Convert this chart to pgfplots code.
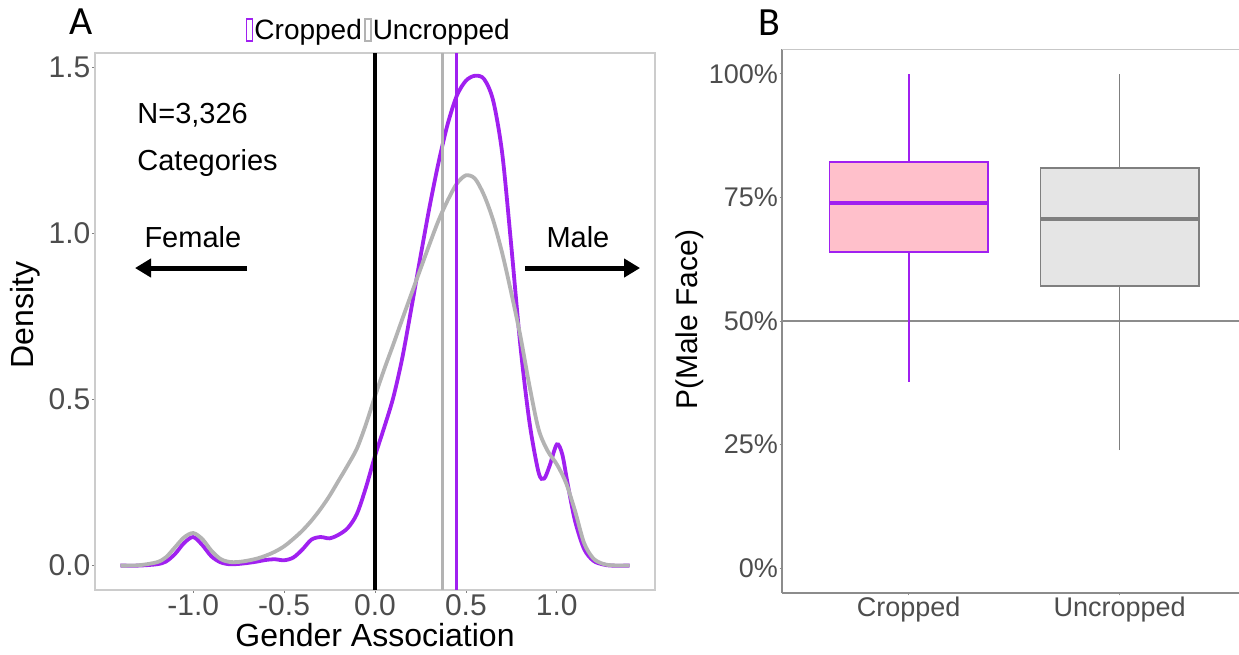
\documentclass[border=0pt]{standalone}
\usepackage{pgfplots}
\pgfplotsset{compat=1.18}
\usetikzlibrary{arrows.meta}
\usepackage{fontspec}
\setmainfont{Liberation Sans}
\newfontfamily\panelfont{Carlito}

\definecolor{cpurple}{HTML}{A020F0}
\definecolor{cgrey}{HTML}{B3B3B3}
\definecolor{cpink}{HTML}{FFC0CB}
\definecolor{boxfill}{HTML}{E5E5E5}
\definecolor{medgrey}{HTML}{7F7F7F}
\definecolor{ticktext}{HTML}{4D4D4D}
\definecolor{framegrey}{HTML}{CCCCCC}
\definecolor{axisgrey}{HTML}{8C8C8C}

\newcommand\fs[1]{\fontsize{#1bp}{#1bp}\selectfont}

% kernel density of gender association, cropped images
\pgfplotstableread{
x y
-1.40 0.000
-1.30 0.000
-1.20 0.004
-1.15 0.012
-1.10 0.035
-1.05 0.068
-1.00 0.086
-0.95 0.062
-0.90 0.028
-0.85 0.010
-0.80 0.004
-0.75 0.005
-0.70 0.008
-0.65 0.012
-0.60 0.017
-0.55 0.019
-0.50 0.016
-0.45 0.024
-0.40 0.048
-0.35 0.078
-0.30 0.086
-0.25 0.082
-0.20 0.093
-0.15 0.113
-0.10 0.155
-0.05 0.235
0.00 0.330
0.05 0.415
0.10 0.505
0.15 0.625
0.20 0.775
0.25 0.930
0.30 1.080
0.35 1.215
0.40 1.330
0.45 1.415
0.50 1.460
0.55 1.475
0.60 1.465
0.65 1.400
0.70 1.240
0.75 0.960
0.80 0.660
0.85 0.430
0.90 0.280
0.93 0.262
0.96 0.300
1.00 0.365
1.03 0.335
1.06 0.245
1.10 0.135
1.15 0.050
1.20 0.015
1.25 0.004
1.30 0.000
1.40 0.000
}\croppeddens

% kernel density of gender association, uncropped images
\pgfplotstableread{
x y
-1.40 0.000
-1.30 0.001
-1.20 0.010
-1.15 0.025
-1.10 0.055
-1.05 0.085
-1.00 0.098
-0.95 0.080
-0.90 0.045
-0.85 0.020
-0.80 0.011
-0.75 0.011
-0.70 0.015
-0.65 0.021
-0.60 0.030
-0.55 0.042
-0.50 0.058
-0.45 0.080
-0.40 0.105
-0.35 0.135
-0.30 0.170
-0.25 0.210
-0.20 0.256
-0.15 0.302
-0.10 0.352
-0.05 0.425
0.00 0.510
0.05 0.590
0.10 0.665
0.15 0.742
0.20 0.818
0.25 0.893
0.30 0.968
0.35 1.040
0.40 1.100
0.45 1.150
0.50 1.175
0.55 1.165
0.60 1.115
0.65 1.040
0.70 0.940
0.75 0.820
0.80 0.690
0.85 0.540
0.90 0.410
0.95 0.345
1.00 0.305
1.05 0.250
1.10 0.165
1.15 0.068
1.20 0.022
1.25 0.006
1.30 0.001
1.40 0.000
}\uncroppeddens

\begin{document}
\begin{tikzpicture}
\useasboundingbox (0,0) rectangle (1239bp,655bp);

\node at (81bp,633bp) {\panelfont\fs{40}A};
\node at (769bp,632bp) {\panelfont\fs{40}B};

% ---- panel A: densities ----
\begin{axis}[
  at={(95bp,65bp)}, anchor=south west,
  scale only axis, width=560bp, height=537bp,
  xmin=-1.54, xmax=1.54, ymin=-0.0735, ymax=1.5435,
  xtick={-1,-0.5,0,0.5,1}, xticklabels={-1.0,-0.5,0.0,0.5,1.0},
  ytick={0,0.5,1,1.5}, yticklabels={0.0,0.5,1.0,1.5},
  xtick pos=bottom, ytick pos=left,
  tick label style={font=\fs{30}, text=ticktext, inner sep=1.5bp},
  tick align=outside, major tick length=3bp,
  tick style={draw=gray, line width=0.8bp},
  axis line style={draw=framegrey, line width=1.2bp},
  xlabel={Gender Association}, ylabel={Density},
  label style={font=\fs{32}},
  xlabel style={at={(axis description cs:0.5,-0.0838)}, anchor=center},
  ylabel style={at={(axis description cs:-0.125,0.512)}, anchor=center},
  legend columns=2,
  legend style={draw=none, fill=none, at={(axis description cs:0.506,1)},
    anchor=center, yshift=23bp, font=\fs{28}, inner sep=0pt,
    nodes={inner sep=1.2bp},
    /tikz/every even column/.append style={column sep=1bp}},
  legend image code/.code={\draw[#1, line width=1.5bp, fill=white] (0bp,-11bp) rectangle (6bp,11bp);},
]
\addplot[cpurple, line width=3.8bp, smooth] table {\croppeddens};
\addlegendentry{Cropped}
\addplot[cgrey, line width=3.8bp, smooth] table {\uncroppeddens};
\addlegendentry{Uncropped}

% reference lines: zero and the two means
\addplot[forget plot, black, line width=3.5bp] coordinates {(0,-0.0735) (0,1.5435)};
\addplot[forget plot, cgrey, line width=3.5bp] coordinates {(0.37,-0.0735) (0.37,1.5435)};
\addplot[forget plot, cpurple, line width=3.2bp] coordinates {(0.45,-0.0735) (0.45,1.5435)};

\node[anchor=base west, font=\fs{29}] at (axis cs:-1.326,1.332) {N=3,326};
\node[anchor=base west, font=\fs{29}] at (axis cs:-1.326,1.190) {Categories};
\node[anchor=base west, font=\fs{29}] at (axis cs:-1.287,0.958) {Female};
\node[anchor=base west, font=\fs{29}] at (axis cs:0.924,0.958) {Male};
\draw[line width=5bp, -{Triangle[length=16bp,width=18bp]}] (axis cs:-0.704,0.896) -- (axis cs:-1.32,0.896);
\draw[line width=5bp, -{Triangle[length=16bp,width=18bp]}] (axis cs:0.825,0.896) -- (axis cs:1.458,0.896);
\end{axis}

% ---- panel B: box plots of P(male face) ----
\begin{axis}[
  at={(782bp,62bp)}, anchor=south west,
  scale only axis, width=457bp, height=544bp,
  xmin=0.4, xmax=2.566, ymin=-5, ymax=105,
  clip=false,
  axis x line*=bottom, axis y line*=left,
  xtick={1,2}, xticklabels={Cropped,Uncropped},
  ytick={0,25,50,75,100}, yticklabels={0\%,25\%,50\%,75\%,100\%},
  tick label style={font=\fs{27}, text=ticktext, inner sep=1.5bp},
  tick align=outside, major tick length=2.5bp,
  tick style={draw=axisgrey, line width=0.8bp},
  axis line style={draw=axisgrey, line width=1.3bp},
  ylabel={P(Male Face)},
  label style={font=\fs{30}},
  ylabel style={at={(axis description cs:-0.201,0.502)}, anchor=center},
]
% upper edge of the panel frame
\addplot[forget plot, black!22, line width=1.5bp] coordinates {(0.4,104.9) (2.566,104.9)};
\addplot[forget plot, axisgrey, line width=1.3bp] coordinates {(0.4,50) (2.566,50)};

% Cropped: whiskers 37.7 / 100, quartiles 64.0 / 82.2, median 73.9
\addplot[cpurple, line width=1.8bp] coordinates {(1,82.2) (1,100)};
\addplot[cpurple, line width=1.8bp] coordinates {(1,37.7) (1,64.0)};
\addplot[draw=cpurple, fill=cpink, line width=1.8bp] coordinates {(0.625,64.0) (1.375,64.0) (1.375,82.2) (0.625,82.2)} -- cycle;
\addplot[cpurple, line width=4bp] coordinates {(0.625,73.9) (1.375,73.9)};

% Uncropped: whiskers 23.9 / 100, quartiles 57.1 / 81.0, median 70.6
\addplot[medgrey, line width=1.8bp] coordinates {(2,81.0) (2,100)};
\addplot[medgrey, line width=1.8bp] coordinates {(2,23.9) (2,57.1)};
\addplot[draw=medgrey, fill=boxfill, line width=1.8bp] coordinates {(1.625,57.1) (2.375,57.1) (2.375,81.0) (1.625,81.0)} -- cycle;
\addplot[medgrey, line width=4bp] coordinates {(1.625,70.6) (2.375,70.6)};
\end{axis}
\end{tikzpicture}
\end{document}
